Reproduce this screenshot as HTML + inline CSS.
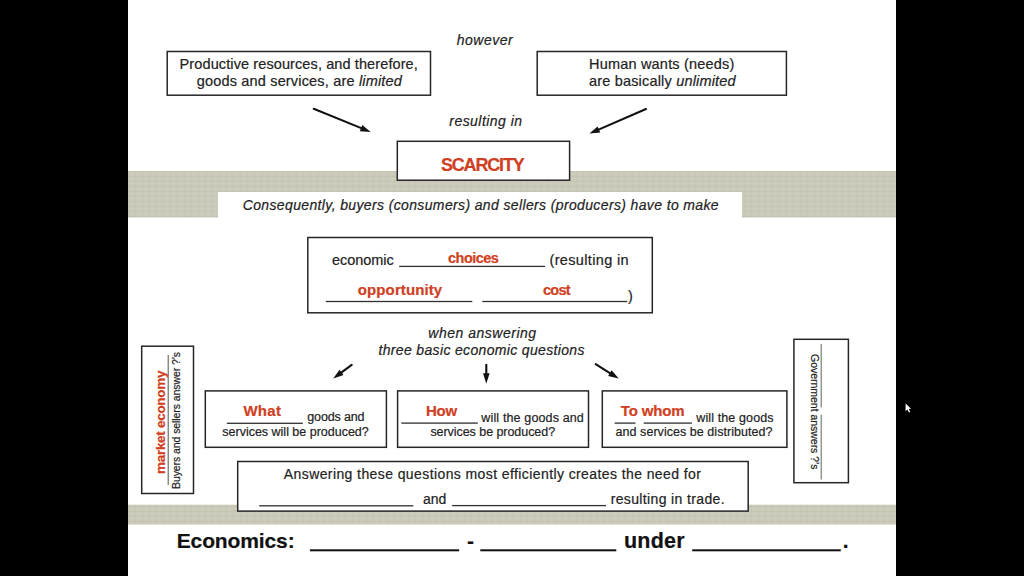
<!DOCTYPE html>
<html><head><meta charset="utf-8"><style>
html,body{margin:0;padding:0;background:#000;}
body{width:1024px;height:576px;position:relative;overflow:hidden;font-family:"Liberation Sans",sans-serif;}
.slide{position:absolute;left:128px;top:0;width:768px;height:576px;background:#fff;}
.band{position:absolute;background:#cbcab9;}
.t{position:absolute;white-space:nowrap;line-height:1;-webkit-text-stroke:0.2px currentColor;}
.b{position:absolute;box-sizing:border-box;}
.l{position:absolute;}
.rot{position:absolute;width:0;height:0;transform-origin:0 0;}
.arr{position:absolute;left:0;top:0;}
</style></head><body>
<div class="slide"></div>
<svg class="arr" width="1024" height="576" viewBox="0 0 1024 576"><defs><pattern id="tex" width="7" height="5" patternUnits="userSpaceOnUse"><rect x="0" y="1" width="7" height="1" fill="#000" opacity="0.025"/><rect x="0" y="3" width="7" height="1" fill="#fff" opacity="0.05"/><rect x="2" y="0" width="1" height="5" fill="#000" opacity="0.02"/><rect x="5" y="0" width="1" height="5" fill="#fff" opacity="0.04"/></pattern></defs>
<rect x="128" y="171" width="768" height="46.5" fill="#cbcab9"/>
<rect x="128" y="171" width="768" height="46.5" fill="url(#tex)"/>
<rect x="128" y="504.7" width="768" height="19.9" fill="#cbcab9"/>
<rect x="128" y="504.7" width="768" height="19.9" fill="url(#tex)"/>
<rect x="218" y="192" width="524" height="26" fill="#fff"/>
<rect x="167.20" y="51.50" width="263.30" height="43.70" fill="#fff" stroke="#262626" stroke-width="1.5"/>
<rect x="537.20" y="51.50" width="249.20" height="43.70" fill="#fff" stroke="#262626" stroke-width="1.5"/>
<rect x="397.30" y="141.30" width="172.30" height="38.90" fill="#fff" stroke="#262626" stroke-width="1.5"/>
<rect x="307.80" y="237.50" width="344.50" height="75.30" fill="#fff" stroke="#262626" stroke-width="1.5"/>
<rect x="399.20" y="265.75" width="145.80" height="1.3" fill="#303030"/>
<rect x="325.80" y="300.85" width="146.50" height="1.3" fill="#303030"/>
<rect x="482.30" y="300.85" width="145.00" height="1.3" fill="#303030"/>
<rect x="205.30" y="390.90" width="181.10" height="56.40" fill="#fff" stroke="#262626" stroke-width="1.5"/>
<rect x="226.80" y="422.65" width="76.00" height="1.3" fill="#303030"/>
<rect x="397.60" y="390.90" width="190.90" height="56.40" fill="#fff" stroke="#262626" stroke-width="1.5"/>
<rect x="401.30" y="422.45" width="76.50" height="1.3" fill="#303030"/>
<rect x="602.30" y="390.90" width="184.60" height="56.40" fill="#fff" stroke="#262626" stroke-width="1.5"/>
<rect x="614.60" y="422.45" width="20.90" height="1.3" fill="#303030"/>
<rect x="643.70" y="422.45" width="48.20" height="1.3" fill="#303030"/>
<rect x="237.70" y="461.50" width="510.50" height="49.60" fill="#fff" stroke="#262626" stroke-width="1.5"/>
<rect x="259.20" y="505.15" width="154.10" height="1.3" fill="#303030"/>
<rect x="452.20" y="504.95" width="153.80" height="1.3" fill="#303030"/>
<rect x="141.70" y="346.20" width="51.80" height="147.30" fill="#fff" stroke="#262626" stroke-width="1.5"/>
<rect x="793.90" y="339.30" width="54.50" height="143.40" fill="#fff" stroke="#262626" stroke-width="1.5"/>
<rect x="309.90" y="549.30" width="149.20" height="2" fill="#111"/>
<rect x="480.30" y="549.30" width="136.00" height="2" fill="#111"/>
<rect x="692.20" y="549.30" width="148.60" height="2" fill="#111"/>
<line x1="313.70" y1="108.80" x2="364.92" y2="129.65" stroke="#111" stroke-width="2.1" stroke-linecap="round"/>
<path d="M370.70,132.00 L359.82,131.14 L362.31,125.02 Z" fill="#111"/>
<line x1="646.00" y1="109.00" x2="595.12" y2="131.11" stroke="#111" stroke-width="2.1" stroke-linecap="round"/>
<path d="M589.40,133.60 L597.62,126.43 L600.25,132.48 Z" fill="#111"/>
<line x1="351.70" y1="364.80" x2="338.21" y2="374.79" stroke="#111" stroke-width="2.1" stroke-linecap="round"/>
<path d="M333.20,378.50 L339.59,369.66 L343.52,374.96 Z" fill="#111"/>
<line x1="486.30" y1="364.70" x2="486.30" y2="377.46" stroke="#111" stroke-width="2.1" stroke-linecap="round"/>
<path d="M486.30,383.70 L483.00,373.30 L489.60,373.30 Z" fill="#111"/>
<line x1="595.70" y1="364.20" x2="613.41" y2="375.29" stroke="#111" stroke-width="2.1" stroke-linecap="round"/>
<path d="M618.70,378.60 L608.13,375.88 L611.64,370.28 Z" fill="#111"/>
<rect x="167.65" y="355.00" width="1.1" height="129.80" fill="#5e665a"/>
<rect x="820.65" y="343.90" width="1.1" height="63.50" fill="#6e7566"/>
<rect x="820.65" y="414.70" width="1.1" height="64.80" fill="#6e7566"/>
<path d="M905.6,403.6 L905.6,411.2 L907.4,409.5 L908.9,412.6 L910.2,412 L908.8,409 L911,408.8 Z" fill="#fff"/></svg>
<div class="t" style="left:456.80px;top:33.00px;font-size:14px;letter-spacing:0.498px;color:#222;font-style:italic;">however</div>
<div class="t" style="left:179.60px;top:57.00px;font-size:14.5px;letter-spacing:0.105px;color:#222;">Productive resources, and therefore,</div>
<div class="t" style="left:196.70px;top:74.00px;font-size:14.5px;letter-spacing:0.176px;color:#222;"><span style="font-style:normal;font-weight:normal">goods and services, are </span><span style="font-style:italic">limited</span></div>
<div class="t" style="left:589.00px;top:57.00px;font-size:14.5px;letter-spacing:0.195px;color:#222;">Human wants (needs)</div>
<div class="t" style="left:589.00px;top:74.00px;font-size:14.5px;letter-spacing:0.179px;color:#222;"><span style="font-style:normal;font-weight:normal">are basically </span><span style="font-style:italic">unlimited</span></div>
<div class="t" style="left:449.30px;top:114.00px;font-size:14px;letter-spacing:0.455px;color:#222;font-style:italic;">resulting in</div>
<div class="t" style="left:440.90px;top:156.00px;font-size:18px;letter-spacing:-1.154px;color:#cf4022;font-weight:bold;">SCARCITY</div>
<div class="t" style="left:242.70px;top:198.00px;font-size:14px;letter-spacing:0.366px;color:#222;font-style:italic;">Consequently, buyers (consumers) and sellers (producers) have to make</div>
<div class="t" style="left:332.00px;top:253.00px;font-size:14.5px;letter-spacing:-0.044px;color:#222;">economic</div>
<div class="t" style="left:448.00px;top:251.00px;font-size:14.5px;letter-spacing:-0.519px;color:#cf4022;font-weight:bold;">choices</div>
<div class="t" style="left:549.50px;top:253.00px;font-size:14.5px;letter-spacing:0.345px;color:#222;">(resulting in</div>
<div class="t" style="left:357.80px;top:282.00px;font-size:15px;letter-spacing:0.108px;color:#cf4022;font-weight:bold;">opportunity</div>
<div class="t" style="left:543.00px;top:283.00px;font-size:14.5px;letter-spacing:-0.732px;color:#cf4022;font-weight:bold;">cost</div>
<div class="t" style="left:628.00px;top:289.00px;font-size:14.5px;letter-spacing:0.000px;color:#222;">)</div>
<div class="t" style="left:428.30px;top:326.00px;font-size:14px;letter-spacing:0.512px;color:#222;font-style:italic;">when answering</div>
<div class="t" style="left:378.50px;top:343.00px;font-size:14px;letter-spacing:0.340px;color:#222;font-style:italic;">three basic economic questions</div>
<div class="t" style="left:243.40px;top:403.00px;font-size:15px;letter-spacing:0.308px;color:#cf4022;font-weight:bold;">What</div>
<div class="t" style="left:307.30px;top:411.00px;font-size:12.5px;letter-spacing:-0.147px;color:#222;">goods and</div>
<div class="t" style="left:222.30px;top:426.00px;font-size:12.5px;letter-spacing:-0.005px;color:#222;">services will be produced?</div>
<div class="t" style="left:425.90px;top:403.00px;font-size:15px;letter-spacing:-0.163px;color:#cf4022;font-weight:bold;">How</div>
<div class="t" style="left:481.36px;top:412.00px;font-size:12.5px;letter-spacing:0.140px;color:#222;">will the goods and</div>
<div class="t" style="left:430.40px;top:426.00px;font-size:12.5px;letter-spacing:-0.052px;color:#222;">services be produced?</div>
<div class="t" style="left:620.80px;top:403.00px;font-size:15px;letter-spacing:-0.137px;color:#cf4022;font-weight:bold;">To whom</div>
<div class="t" style="left:696.26px;top:412.00px;font-size:12.5px;letter-spacing:0.122px;color:#222;">will the goods</div>
<div class="t" style="left:615.60px;top:426.00px;font-size:12.5px;letter-spacing:0.047px;color:#222;">and services be distributed?</div>
<div class="t" style="left:283.80px;top:467.00px;font-size:14px;letter-spacing:0.405px;color:#222;">Answering these questions most efficiently creates the need for</div>
<div class="t" style="left:423.00px;top:492.00px;font-size:14px;letter-spacing:0.010px;color:#222;">and</div>
<div class="t" style="left:610.70px;top:492.00px;font-size:14px;letter-spacing:0.362px;color:#222;">resulting in trade.</div>
<div class="t" style="left:176.70px;top:530.00px;font-size:21px;letter-spacing:-0.119px;color:#111;font-weight:bold;">Economics:</div>
<div class="t" style="left:467.00px;top:530.00px;font-size:21px;letter-spacing:0.000px;color:#111;font-weight:bold;">-</div>
<div class="t" style="left:624.00px;top:531.00px;font-size:21.5px;letter-spacing:0.207px;color:#111;font-weight:bold;">under</div>
<div class="t" style="left:842.80px;top:530.00px;font-size:21px;letter-spacing:0.000px;color:#111;font-weight:bold;">.</div>
<div class="rot" style="left:165.00px;top:473.50px;transform:rotate(-90deg)"><div class="t" style="left:-0.00px;top:-11.43px;font-size:13.5px;letter-spacing:-0.294px;color:#cf4022;font-weight:bold;">market economy</div></div>
<div class="rot" style="left:179.70px;top:489.00px;transform:rotate(-90deg)"><div class="t" style="left:-0.00px;top:-8.89px;font-size:10.5px;letter-spacing:-0.082px;color:#222;">Buyers and sellers answer ?’s</div></div>
<div class="rot" style="left:811.30px;top:353.60px;transform:rotate(90deg)"><div class="t" style="left:-0.00px;top:-8.89px;font-size:10.5px;letter-spacing:-0.025px;color:#222;">Government answers ?’s</div></div>
</body></html>
